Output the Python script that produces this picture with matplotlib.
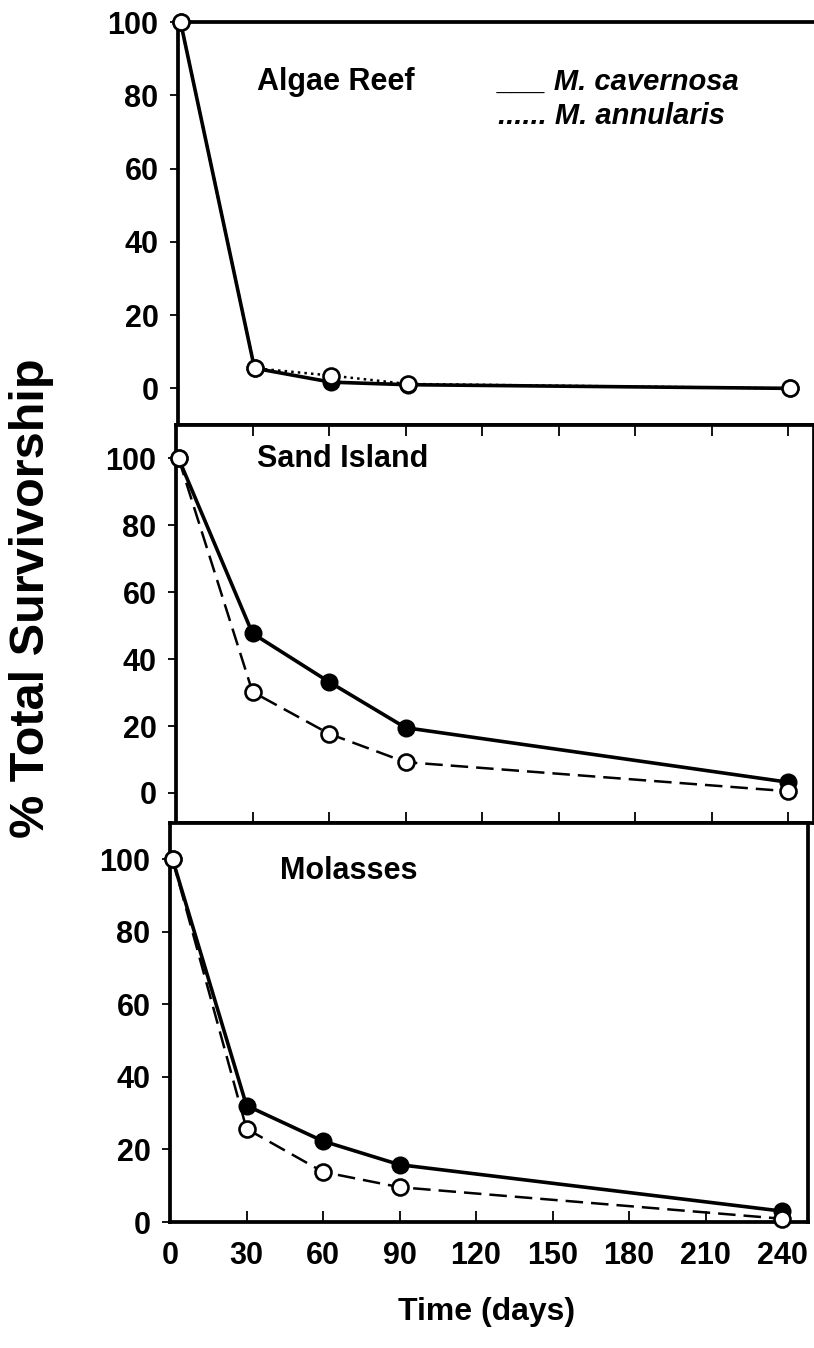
import numpy as np
import matplotlib
matplotlib.use("Agg")
import matplotlib.pyplot as plt

plt.rcParams['font.family'] = ['Liberation Sans', 'DejaVu Sans']
plt.rcParams['font.weight'] = 'bold'

# data (days, % survivorship)
days = [1, 30, 60, 90, 240]
algae_cav = [100, 5.5, 1.7, 1.0, 0.0]
algae_ann = [100, 5.5, 3.5, 1.2, 0.0]
sand_cav = [100, 47.7, 33.2, 19.5, 3.2]
sand_ann = [100, 30.2, 17.7, 9.2, 0.5]
mol_cav = [100, 32.1, 22.3, 15.8, 3.0]
mol_ann = [100, 25.7, 13.8, 9.6, 0.9]

site_names = ["Algae Reef", "Sand Island", "Molasses"]
x_ticks = [0, 30, 60, 90, 120, 150, 180, 210, 240]
y_ticks = [0, 20, 40, 60, 80, 100]

W, H = 814, 1348
fig = plt.figure(figsize=(W / 100, H / 100), dpi=100)


def px_axes(left, top, width, height):
    return fig.add_axes([left / W, 1 - (top + height) / H, width / W, height / H])


ax_top = px_axes(178, 22, 637.5, 403)
ax_mid = px_axes(176, 425, 637.5, 398)
ax_bot = px_axes(170, 823, 637.5, 399)

panels = [
    (ax_top, algae_cav, algae_ann, (-10, 100), ":"),
    (ax_mid, sand_cav, sand_ann, (-9, 110), "--"),
    (ax_bot, mol_cav, mol_ann, (0, 110), "--"),
]

for ax, cav, ann, ylim, ann_ls in panels:
    ax.plot(days, cav, "-", color="black", lw=2.6, marker="o", ms=11.5,
            mfc="black", mec="black", mew=1.5, clip_on=False, zorder=3)
    line, = ax.plot(days, ann, ann_ls, color="black", lw=1.8, marker="o", ms=11.5,
                    mfc="white", mec="black", mew=1.9, clip_on=False, zorder=4)
    if ann_ls == "--":
        line.set_dashes((7, 3.2))
    ax.set_xlim(0, 250)
    ax.set_ylim(*ylim)
    ax.set_yticks(y_ticks)
    ax.set_xticks(x_ticks)
    for s in ax.spines.values():
        s.set_linewidth(2.7)
    ax.tick_params(axis="y", direction="out", length=6, width=1.3,
                   labelsize=22, pad=8)
    ax.tick_params(axis="x", direction="in", length=8, width=1.3,
                   labelsize=22, pad=14)
    for lab in ax.get_yticklabels() + ax.get_xticklabels():
        lab.set_fontweight("bold")

# top panel: no x ticks of its own, no right spine
ax_top.spines["right"].set_visible(False)
ax_top.tick_params(axis="x", bottom=False, labelbottom=False)
# middle panel: ticks on top and bottom, inside
ax_mid.tick_params(axis="x", top=True, bottom=True, labelbottom=False)
ax_bot.tick_params(axis="x", top=False, bottom=True, labelbottom=True)

ax_top.text(62, 83.6, site_names[0], ha="center", va="center", fontsize=22, fontweight="bold")
ax_mid.text(65.5, 99.7, site_names[1], ha="center", va="center", fontsize=22, fontweight="bold")
ax_bot.text(70, 96.9, site_names[2], ha="center", va="center", fontsize=22, fontweight="bold")

# typed legend as in the original
ax_top.text(125.5, 81.4, "___ M. cavernosa", ha="left", va="baseline",
            fontsize=21, fontweight="bold", fontstyle="italic")
ax_top.text(125.5, 72.1, "...... M. annularis", ha="left", va="baseline",
            fontsize=21, fontweight="bold", fontstyle="italic")

fig.text(32 / W, 1 - 598 / H, "% Total Survivorship", rotation=90,
         ha="center", va="center", fontsize=35, fontweight="bold")
fig.text(487 / W, 1 - 1312 / H, "Time (days)", ha="center", va="center",
         fontsize=23, fontweight="bold")

fig.savefig("out.png", dpi=100)
